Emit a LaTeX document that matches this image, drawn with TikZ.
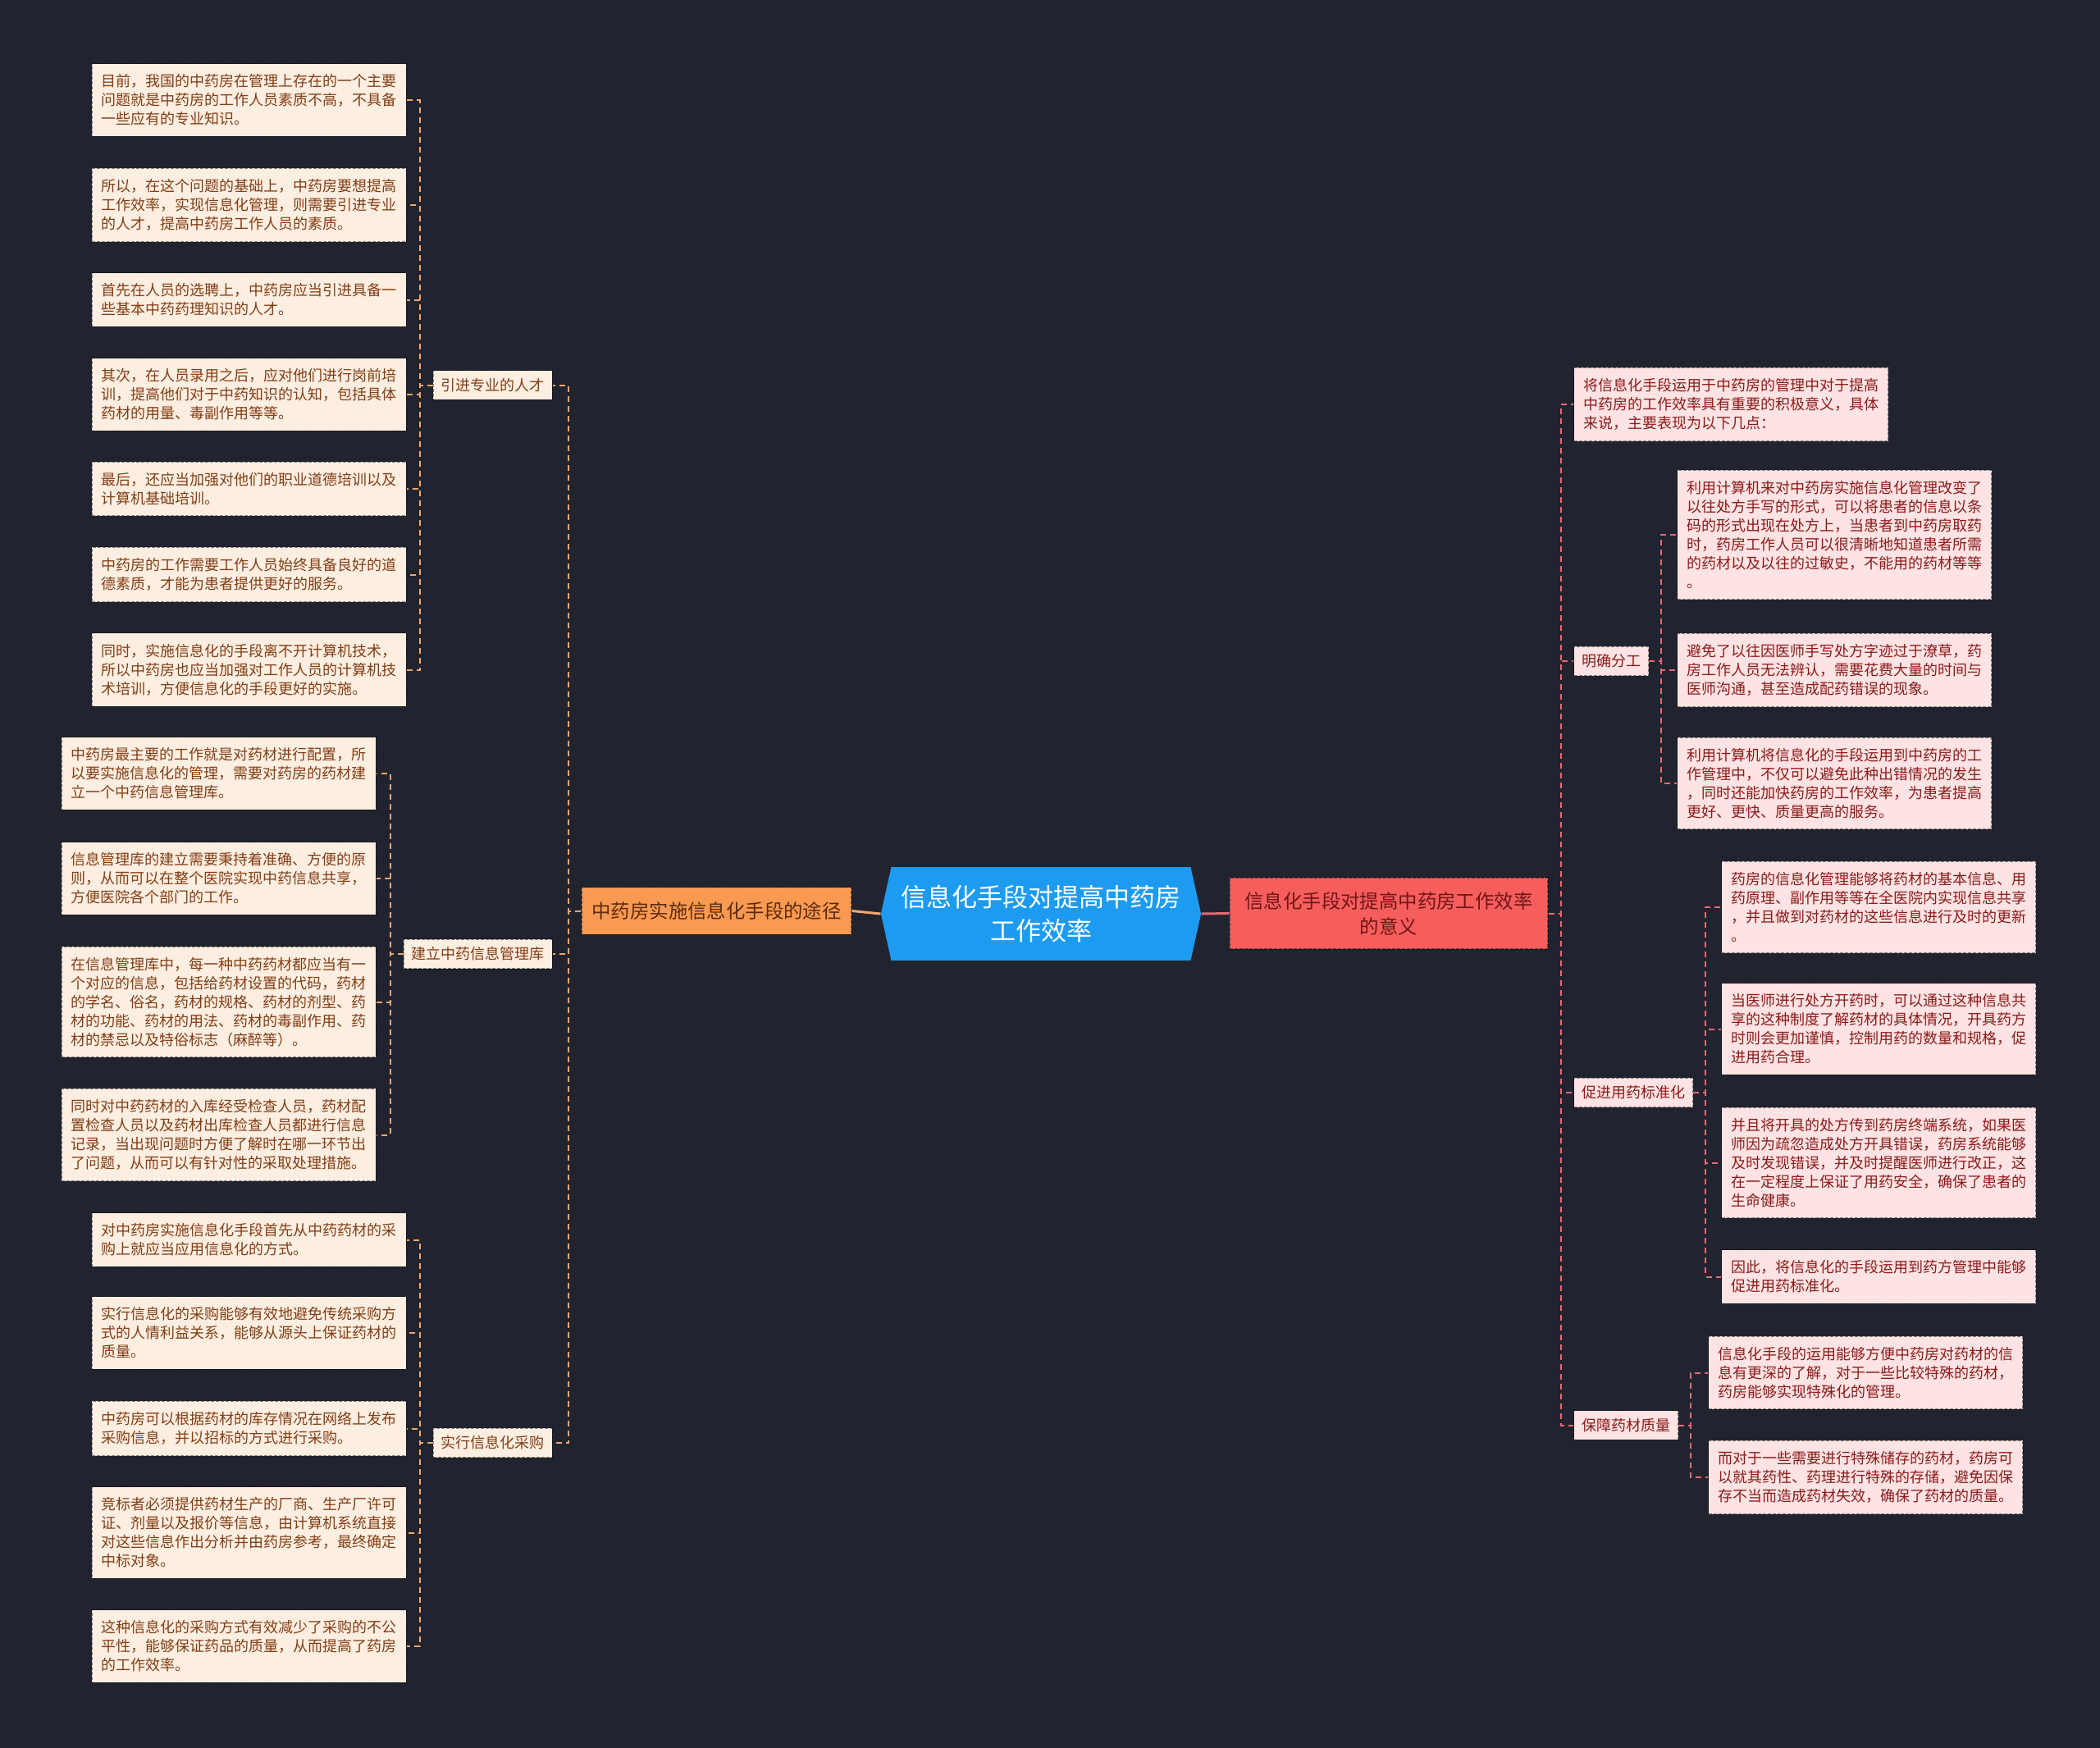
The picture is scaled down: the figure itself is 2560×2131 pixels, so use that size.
\documentclass[tikz,border=0pt]{standalone}
\usepackage{fontspec}
\setmainfont{Noto Sans CJK SC}
\usetikzlibrary{shapes.symbols}
\definecolor{bgc}{RGB}{33,36,47}
\definecolor{leafL}{RGB}{253,238,226}
\definecolor{textL}{RGB}{130,62,20}
\definecolor{leafR}{RGB}{253,227,227}
\definecolor{textR}{RGB}{140,26,26}
\definecolor{lineL}{RGB}{242,166,110}
\definecolor{lineR}{RGB}{228,106,116}
\definecolor{rootc}{RGB}{29,155,240}
\definecolor{mainL}{RGB}{250,154,82}
\definecolor{mainR}{RGB}{246,94,94}

\tikzset{
  box/.style={draw=black, draw opacity=0.45, dash pattern=on 2pt off 1pt, line width=0.6pt,
    font=\fontsize{9pt}{11.5pt}\selectfont},
  leafl/.style={box, fill=leafL, text=textL, text width=180pt, align=left, inner xsep=5.75pt, inner ysep=6.5pt, anchor=east},
  leafr/.style={box, fill=leafR, text=textR, text width=180pt, align=left, inner xsep=5.75pt, inner ysep=6.5pt, anchor=west},
  subl/.style={box, fill=leafL, text=textL, inner sep=4.75pt, anchor=east},
  subr/.style={box, fill=leafR, text=textR, inner sep=4.75pt, anchor=west},
  lnkl/.style={draw=lineL, line width=1pt, dash pattern=on 3.5pt off 2.5pt},
  lnkr/.style={draw=lineR, line width=1pt, dash pattern=on 3.5pt off 2.5pt},
  root/.style={signal, signal to=west and east, signal pointer angle=155, fill=rootc, text=white,
    align=center, font=\fontsize{15.5pt}{20.5pt}\selectfont, inner xsep=6pt, inner ysep=11pt},
  mainl/.style={box, fill=mainL, text=textL!70!black, font=\fontsize{11.7pt}{15.5pt}\selectfont, inner xsep=6.2pt, inner ysep=8.9pt},
  mainr/.style={box, fill=mainR, text=textR!80!black, align=center, font=\fontsize{11.7pt}{15.5pt}\selectfont, inner xsep=9.2pt, inner ysep=8.6pt},
}

\begin{document}
\begin{tikzpicture}[x=0.5pt, y=-0.5pt]
\fill[bgc] (0,0) rectangle (2560,2131);
\useasboundingbox (0,0) rectangle (2560,2131);

% centre
\node[root] (root) at (1269,1114) {信息化手段对提高中药房\\工作效率};
\node[mainl] (lm) at (873.5,1110.5) {中药房实施信息化手段的途径};
\node[mainr] (rm) at (1693,1113.5) {信息化手段对提高中药房工作效率\\的意义};
\draw[lineL, line width=1.5pt] (lm.east) -- (root.west);
\draw[lineR, line width=1.5pt] (root.east) -- (rm.west);

% left: talent
\node[subl] (s1) at (674,469.5) {引进专业的人才};
\node[leafl] (l1) at (496,122) {目前，我国的中药房在管理上存在的一个主要\\问题就是中药房的工作人员素质不高，不具备\\一些应有的专业知识。};
\node[leafl] (l2) at (496,250) {所以，在这个问题的基础上，中药房要想提高\\工作效率，实现信息化管理，则需要引进专业\\的人才，提高中药房工作人员的素质。};
\node[leafl] (l3) at (496,365.5) {首先在人员的选聘上，中药房应当引进具备一\\些基本中药药理知识的人才。};
\node[leafl] (l4) at (496,481) {其次，在人员录用之后，应对他们进行岗前培\\训，提高他们对于中药知识的认知，包括具体\\药材的用量、毒副作用等等。};
\node[leafl] (l5) at (496,596) {最后，还应当加强对他们的职业道德培训以及\\计算机基础培训。};
\node[leafl] (l6) at (496,700.5) {中药房的工作需要工作人员始终具备良好的道\\德素质，才能为患者提供更好的服务。};
\node[leafl] (l7) at (496,816.5) {同时，实施信息化的手段离不开计算机技术，\\所以中药房也应当加强对工作人员的计算机技\\术培训，方便信息化的手段更好的实施。};
\foreach \n in {l1,l2,l3,l4,l5,l6,l7}
  \draw[lnkl] (s1.west) -- ++(-16,0) |- (\n.east);

% left: database
\node[subl] (s2) at (674,1163) {建立中药信息管理库};
\node[leafl] (b1) at (459,943) {中药房最主要的工作就是对药材进行配置，所\\以要实施信息化的管理，需要对药房的药材建\\立一个中药信息管理库。};
\node[leafl] (b2) at (459,1071) {信息管理库的建立需要秉持着准确、方便的原\\则，从而可以在整个医院实现中药信息共享，\\方便医院各个部门的工作。};
\node[leafl] (b3) at (459,1221.5) {在信息管理库中，每一种中药药材都应当有一\\个对应的信息，包括给药材设置的代码，药材\\的学名、俗名，药材的规格、药材的剂型、药\\材的功能、药材的用法、药材的毒副作用、药\\材的禁忌以及特俗标志（麻醉等）。};
\node[leafl] (b4) at (459,1383.5) {同时对中药药材的入库经受检查人员，药材配\\置检查人员以及药材出库检查人员都进行信息\\记录，当出现问题时方便了解时在哪一环节出\\了问题，从而可以有针对性的采取处理措施。};
\foreach \n in {b1,b2,b3,b4}
  \draw[lnkl] (s2.west) -- ++(-16,0) |- (\n.east);

% left: purchasing
\node[subl] (s3) at (674,1759) {实行信息化采购};
\node[leafl] (c1) at (496,1511.5) {对中药房实施信息化手段首先从中药药材的采\\购上就应当应用信息化的方式。};
\node[leafl] (c2) at (496,1625) {实行信息化的采购能够有效地避免传统采购方\\式的人情利益关系，能够从源头上保证药材的\\质量。};
\node[leafl] (c3) at (496,1741.5) {中药房可以根据药材的库存情况在网络上发布\\采购信息，并以招标的方式进行采购。};
\node[leafl] (c4) at (496,1868.5) {竞标者必须提供药材生产的厂商、生产厂许可\\证、剂量以及报价等信息，由计算机系统直接\\对这些信息作出分析并由药房参考，最终确定\\中标对象。};
\node[leafl] (c5) at (496,2007) {这种信息化的采购方式有效减少了采购的不公\\平性，能够保证药品的质量，从而提高了药房\\的工作效率。};
\foreach \n in {c1,c2,c3,c4,c5}
  \draw[lnkl] (s3.west) -- ++(-16,0) |- (\n.east);

\foreach \n in {s1,s2,s3}
  \draw[lnkl] (lm.west) -- ++(-15,0) |- (\n.east);

% right side
\node[leafr] (r0) at (1918,493) {将信息化手段运用于中药房的管理中对于提高\\中药房的工作效率具有重要的积极意义，具体\\来说，主要表现为以下几点：};

\node[subr] (sm) at (1918,806) {明确分工};
\node[leafr] (m1) at (2044,652) {利用计算机来对中药房实施信息化管理改变了\\以往处方手写的形式，可以将患者的信息以条\\码的形式出现在处方上，当患者到中药房取药\\时，药房工作人员可以很清晰地知道患者所需\\的药材以及以往的过敏史，不能用的药材等等\\。};
\node[leafr] (m2) at (2044,817) {避免了以往因医师手写处方字迹过于潦草，药\\房工作人员无法辨认，需要花费大量的时间与\\医师沟通，甚至造成配药错误的现象。};
\node[leafr] (m3) at (2044,955) {利用计算机将信息化的手段运用到中药房的工\\作管理中，不仅可以避免此种出错情况的发生\\，同时还能加快药房的工作效率，为患者提高\\更好、更快、质量更高的服务。};
\foreach \n in {m1,m2,m3}
  \draw[lnkr] (sm.east) -- ++(15,0) |- (\n.west);

\node[subr] (sp) at (1918,1332) {促进用药标准化};
\node[leafr] (p1) at (2098,1106) {药房的信息化管理能够将药材的基本信息、用\\药原理、副作用等等在全医院内实现信息共享\\，并且做到对药材的这些信息进行及时的更新\\。};
\node[leafr] (p2) at (2098,1254.5) {当医师进行处方开药时，可以通过这种信息共\\享的这种制度了解药材的具体情况，开具药方\\时则会更加谨慎，控制用药的数量和规格，促\\进用药合理。};
\node[leafr] (p3) at (2098,1417.5) {并且将开具的处方传到药房终端系统，如果医\\师因为疏忽造成处方开具错误，药房系统能够\\及时发现错误，并及时提醒医师进行改正，这\\在一定程度上保证了用药安全，确保了患者的\\生命健康。};
\node[leafr] (p4) at (2098,1556.5) {因此，将信息化的手段运用到药方管理中能够\\促进用药标准化。};
\foreach \n in {p1,p2,p3,p4}
  \draw[lnkr] (sp.east) -- ++(15,0) |- (\n.west);

\node[subr] (sq) at (1918,1737.5) {保障药材质量};
\node[leafr] (q1) at (2082,1673.5) {信息化手段的运用能够方便中药房对药材的信\\息有更深的了解，对于一些比较特殊的药材，\\药房能够实现特殊化的管理。};
\node[leafr] (q2) at (2082,1801) {而对于一些需要进行特殊储存的药材，药房可\\以就其药性、药理进行特殊的存储，避免因保\\存不当而造成药材失效，确保了药材的质量。};
\foreach \n in {q1,q2}
  \draw[lnkr] (sq.east) -- ++(15,0) |- (\n.west);

\foreach \n in {r0,sm,sp,sq}
  \draw[lnkr] (rm.east) -- ++(15,0) |- (\n.west);
\end{tikzpicture}
\end{document}
